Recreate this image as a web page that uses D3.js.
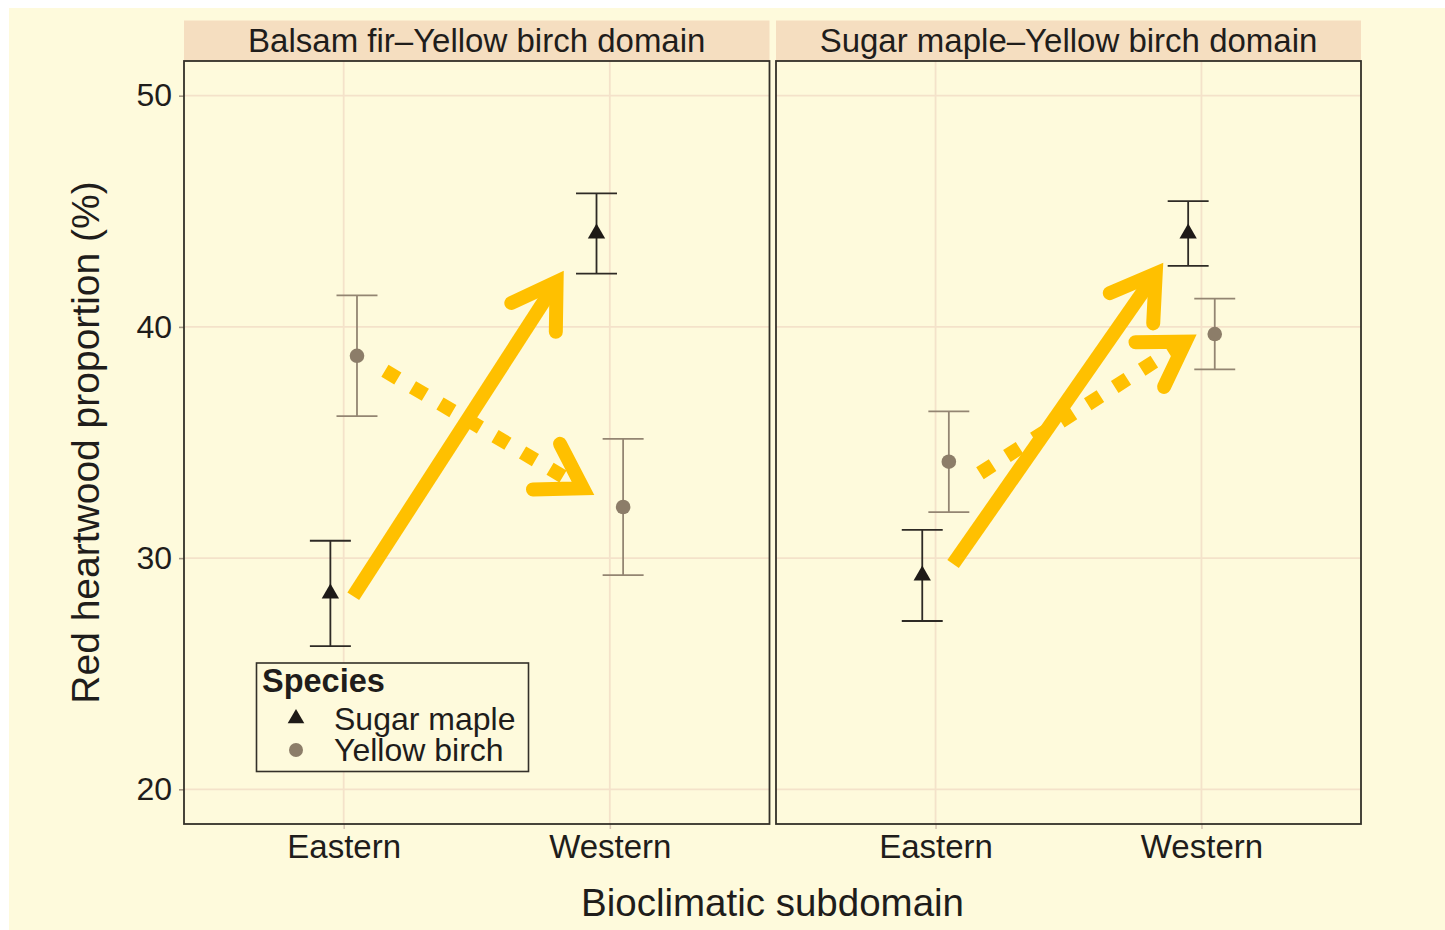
<!DOCTYPE html>
<html>
<head>
<meta charset="utf-8">
<script src="https://cdn.jsdelivr.net/npm/d3@7"></script>
<style>
  html, body { margin: 0; padding: 0; background: #ffffff; }
  svg { display: block; }
  text { font-family: "Liberation Sans", Arial, Helvetica, sans-serif; fill: #1f1d1b; }
</style>
</head>
<body>
<svg id="chart" width="1445" height="930"></svg>
<script>
// ---- data ----
const domains = ["Balsam fir–Yellow birch domain", "Sugar maple–Yellow birch domain"];
const subdomains = ["Eastern", "Western"];
const species = ["Sugar maple", "Yellow birch"];
const yTicks = [20, 30, 40, 50];

// mean red heartwood proportion (%) and its half-interval, [domain][subdomain]
const sugarMapleMean = [[28.47, 44.04], [29.25, 44.04]];
const sugarMapleErr  = [[2.28, 1.735], [1.97, 1.40]];
const yellowBirchMean = [[38.75, 32.21], [34.17, 39.69]];
const yellowBirchErr  = [[2.61, 2.95], [2.18, 1.53]];

// trend arrows: [domain index, start position, start %, end position, end %, dotted?]
const trendArrows = [
  [0, 1.036, 28.35, 1.800, 41.95, false],
  [0, 1.155, 38.10, 1.899, 33.02, true],
  [1, 1.066, 29.74, 1.828, 42.31, false],
  [1, 1.167, 33.67, 1.940, 39.36, true]
];

// ---- layout ----
const W = 1445, H = 930;
const bg = "#FEFADC";
const gridColor = "#F4E2CA";
const stripFill = "#F5DEC0";
const frameColor = "#333029";
const arrowColor = "#FFC000";
const speciesStyle = {
  "Sugar maple":  { fill: "#1E1A17", line: "#2E2A25", dodge: -0.05 },
  "Yellow birch": { fill: "#8C7D69", line: "#938572", dodge: 0.05 }
};

const panelTop = 61, panelBottom = 824;
const stripTop = 20.5;
const panels = [
  { x0: 184, x1: 769.5 },
  { x0: 776, x1: 1361 }
];

const svg = d3.select("#chart");
svg.append("rect").attr("x", 0).attr("y", 0).attr("width", W).attr("height", H).attr("fill", "#ffffff");
svg.append("rect").attr("x", 9).attr("y", 8).attr("width", W - 9).attr("height", H - 8).attr("fill", bg);

// y scale: limits 20–50 with 5% expansion
const y = d3.scaleLinear().domain([20 - 1.5, 50 + 1.5]).range([panelBottom, panelTop]);

const arrowLayer = [];

panels.forEach((p, di) => {
  // discrete x positions 1, 2 with 0.6 expansion
  const x = d3.scaleLinear().domain([0.4, 2.6]).range([p.x0, p.x1]);
  const g = svg.append("g");

  // strip
  g.append("rect")
    .attr("x", p.x0).attr("y", stripTop)
    .attr("width", p.x1 - p.x0).attr("height", panelTop - stripTop)
    .attr("fill", stripFill);
  g.append("text")
    .attr("x", (p.x0 + p.x1) / 2).attr("y", 52)
    .attr("text-anchor", "middle")
    .style("font-size", "33px")
    .text(domains[di]);

  // panel background + grid
  g.append("rect")
    .attr("x", p.x0).attr("y", panelTop)
    .attr("width", p.x1 - p.x0).attr("height", panelBottom - panelTop)
    .attr("fill", bg);
  g.selectAll("line.hgrid").data(yTicks).join("line")
    .attr("class", "hgrid")
    .attr("x1", p.x0).attr("x2", p.x1)
    .attr("y1", d => y(d)).attr("y2", d => y(d))
    .attr("stroke", gridColor).attr("stroke-width", 1.8);
  g.selectAll("line.vgrid").data([1, 2]).join("line")
    .attr("class", "vgrid")
    .attr("x1", d => x(d)).attr("x2", d => x(d))
    .attr("y1", panelTop).attr("y2", panelBottom)
    .attr("stroke", gridColor).attr("stroke-width", 1.8);

  // x axis
  const xAxis = d3.axisBottom(x).tickValues([1, 2])
    .tickFormat(d => subdomains[d - 1]).tickSize(5).tickPadding(6);
  const xg = g.append("g").attr("transform", `translate(0,${panelBottom})`).call(xAxis);
  xg.select(".domain").remove();
  xg.selectAll(".tick line").attr("stroke", "#D8C8B4").attr("stroke-width", 1.6);
  xg.selectAll(".tick text").style("font-size", "33px").attr("fill", "#1f1d1b")
    .style("font-family", "'Liberation Sans', Arial, sans-serif");

  // y axis on the first panel only
  if (di === 0) {
    const yAxis = d3.axisLeft(y).tickValues(yTicks).tickSize(5).tickPadding(7);
    const yg = g.append("g").attr("transform", `translate(${p.x0},0)`).call(yAxis);
    yg.select(".domain").remove();
    yg.selectAll(".tick line").attr("stroke", "#A89A88").attr("stroke-width", 1.6);
    yg.selectAll(".tick text").style("font-size", "32px").attr("fill", "#1f1d1b")
      .style("font-family", "'Liberation Sans', Arial, sans-serif");
  }

  // error bars and points
  const rows = [];
  subdomains.forEach((s, si) => {
    rows.push({ sp: "Sugar maple", pos: si + 1, mean: sugarMapleMean[di][si], err: sugarMapleErr[di][si] });
    rows.push({ sp: "Yellow birch", pos: si + 1, mean: yellowBirchMean[di][si], err: yellowBirchErr[di][si] });
  });
  const capHalf = 0.077;
  rows.forEach(r => {
    const st = speciesStyle[r.sp];
    const cx = r.pos + st.dodge;
    const eb = g.append("g").attr("stroke", st.line).attr("stroke-width", 1.8).attr("fill", "none");
    eb.append("line").attr("x1", x(cx)).attr("x2", x(cx))
      .attr("y1", y(r.mean - r.err)).attr("y2", y(r.mean + r.err));
    [r.mean - r.err, r.mean + r.err].forEach(v => {
      eb.append("line").attr("x1", x(cx - capHalf)).attr("x2", x(cx + capHalf))
        .attr("y1", y(v)).attr("y2", y(v));
    });
  });
  rows.forEach(r => {
    const st = speciesStyle[r.sp];
    const cx = x(r.pos + st.dodge), cy = y(r.mean);
    if (r.sp === "Sugar maple") {
      g.append("path").attr("d", d3.symbol(d3.symbolTriangle, 130)())
        .attr("transform", `translate(${cx},${cy})`).attr("fill", st.fill);
    } else {
      g.append("circle").attr("cx", cx).attr("cy", cy).attr("r", 7.3).attr("fill", st.fill);
    }
  });

  // frame
  g.append("rect")
    .attr("x", p.x0).attr("y", panelTop)
    .attr("width", p.x1 - p.x0).attr("height", panelBottom - panelTop)
    .attr("fill", "none").attr("stroke", frameColor).attr("stroke-width", 1.8);

  trendArrows.filter(a => a[0] === di).forEach(a => arrowLayer.push({ x, a }));
});

// legend
const lg = svg.append("g");
lg.append("rect").attr("x", 256.5).attr("y", 663).attr("width", 272).attr("height", 108.5)
  .attr("fill", bg).attr("stroke", frameColor).attr("stroke-width", 1.6);
lg.append("text").attr("x", 262).attr("y", 692).style("font-size", "32.5px").style("font-weight", "bold")
  .text("Species");
species.forEach((s, i) => {
  const cy = 718.5 + i * 31.5;
  if (s === "Sugar maple") {
    lg.append("path").attr("d", d3.symbol(d3.symbolTriangle, 120)())
      .attr("transform", `translate(296,${cy})`).attr("fill", speciesStyle[s].fill);
  } else {
    lg.append("circle").attr("cx", 296).attr("cy", cy).attr("r", 7).attr("fill", speciesStyle[s].fill);
  }
  lg.append("text").attr("x", 334).attr("y", 730 + i * 31).style("font-size", "32px").text(s);
});

// trend arrows on top
const headLen = 50, headAngle = 32 * Math.PI / 180;
arrowLayer.forEach(({ x, a }) => {
  const [, u0, v0, u1, v1, dotted] = a;
  const x0 = x(u0), y0 = y(v0), x1 = x(u1), y1 = y(v1);
  const th = Math.atan2(y1 - y0, x1 - x0);
  const g = svg.append("g").attr("stroke", arrowColor).attr("fill", "none").attr("stroke-width", 14);
  g.append("line").attr("x1", x0).attr("y1", y0).attr("x2", x1).attr("y2", y1)
    .attr("stroke-linecap", "butt")
    .attr("stroke-dasharray", dotted ? "15 17" : null);
  const b1 = [x1 + headLen * Math.cos(th + Math.PI - headAngle), y1 + headLen * Math.sin(th + Math.PI - headAngle)];
  const b2 = [x1 + headLen * Math.cos(th + Math.PI + headAngle), y1 + headLen * Math.sin(th + Math.PI + headAngle)];
  g.append("path").attr("d", d3.line()([b1, [x1, y1], b2]))
    .attr("stroke-linejoin", "miter").attr("stroke-miterlimit", 10).attr("stroke-linecap", "round");
});

// axis titles
svg.append("text").attr("x", (panels[0].x0 + panels[1].x1) / 2).attr("y", 916)
  .attr("text-anchor", "middle").style("font-size", "38.5px").text("Bioclimatic subdomain");
svg.append("text").attr("transform", `translate(99,${(panelTop + panelBottom) / 2}) rotate(-90)`)
  .attr("text-anchor", "middle").style("font-size", "39px").text("Red heartwood proportion (%)");
</script>
</body>
</html>
